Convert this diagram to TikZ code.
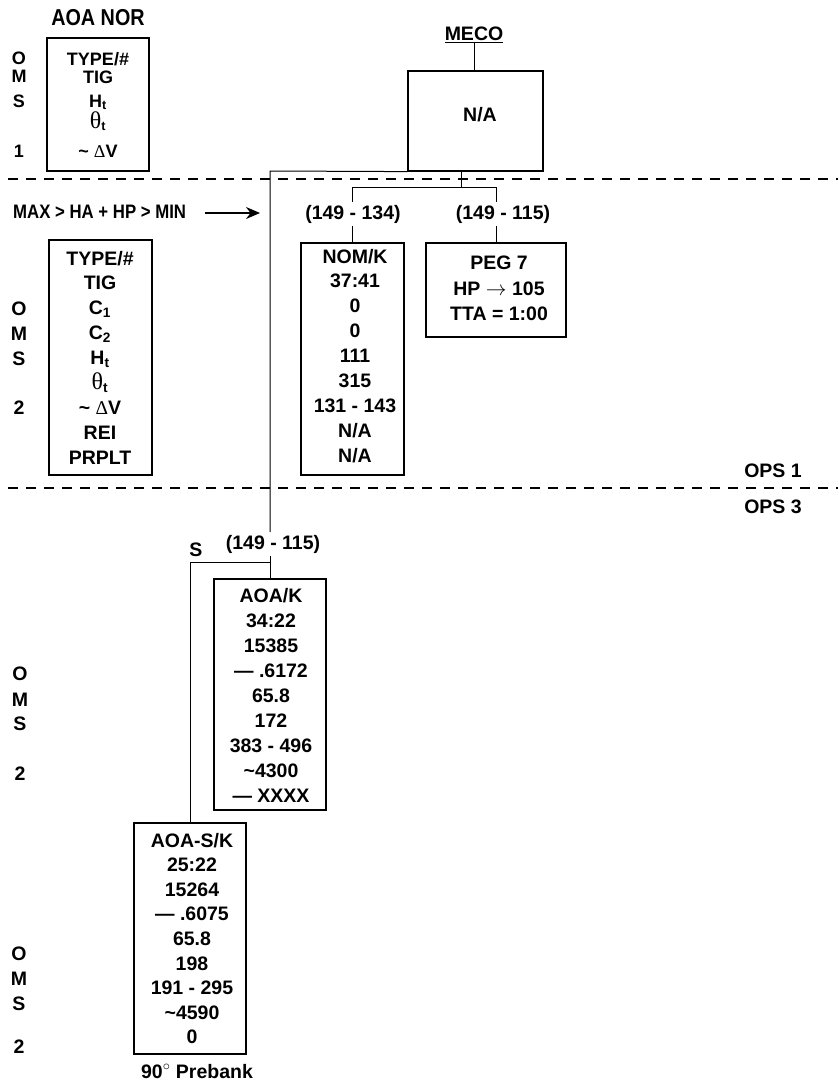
\documentclass[tikz,border=0pt]{standalone}
\usepackage{fontspec}
\setmainfont{Liberation Sans}
\newfontfamily\grk{Liberation Serif}
\newfontfamily\narrowsans[FakeStretch=0.86]{Liberation Sans}
\newcommand{\thetat}{{\grk\mdseries\fontsize{24}{24}\selectfont θ}\textsubscript{t}}
\newcommand{\dv}{\textasciitilde{} {\grk\mdseries Δ}V}
\usetikzlibrary{arrows.meta, positioning}

\begin{document}
\begin{tikzpicture}[x=1pt, y=-1pt, >={Stealth[length=14pt,width=12pt]},
  box/.style={draw, line width=1.2pt, inner sep=0pt},
  row/.style={anchor=base, inner sep=0pt, font=\bfseries\fontsize{19.5}{19.5}\selectfont},
  small row/.style={row, font=\bfseries\fontsize{18}{18}\selectfont},
  tag/.style={row, anchor=center, inner sep=2.5pt},
  sep/.style={line width=1.1pt, dash pattern=on 10pt off 8pt}]
  \useasboundingbox (0,0) rectangle (838,1084);
  % phase separators
  \draw[sep] (8,179) -- (838,179);
  \draw[sep] (8,488) -- (838,488);
  \node[row] (ops1) at (773,477) {OPS 1};
  \node[row] (ops3) at (773,513) {OPS 3};

  % OMS 1 legend
  \node[row, font=\narrowsans\bfseries\fontsize{23}{23}\selectfont] (title) at (98,25) {AOA NOR};
  \node[box, minimum width=102pt, minimum height=133pt] (oms1) at (98,104.5) {};
  \foreach \y/\t [count=\i] in {65/{TYPE/\#}, 83/TIG, 107/{H\textsubscript{t}},
      128/{\thetat}, 157/{\dv}}
    \node[small row] (a\i) at (98,\y) {\t};
  \foreach \y/\t [count=\i] in {64/O, 82/M, 107/S, 157/1}
    \node[small row] (la\i) at (19,\y) {\t};

  % OMS 2 legend
  \node[row, anchor=base west, font=\narrowsans\bfseries\fontsize{19.5}{19.5}\selectfont] (maxmin) at (13,218) {MAX > HA + HP > MIN};
  \coordinate (arrtail) at (205,213);
  \coordinate (arrtip) at (260,213);
  \draw[->, line width=1.2pt] (arrtail) -- (arrtip);
  \node[box, minimum width=103pt, minimum height=235pt] (oms2) at (100.5,357.5) {};
  \foreach \t [count=\i from 0] in {{TYPE/\#}, TIG, C\textsubscript{1}, C\textsubscript{2}, H\textsubscript{t},
      {\thetat}, {\dv}, REI, PRPLT}
    \node[row] (b\i) at (100,265+24.9*\i) {\t};
  \foreach \y/\t [count=\i] in {315/O, 340/M, 365/S, 414/2}
    \node[row] (lb\i) at (19,\y) {\t};

  % MECO
  \node[row, anchor=center] (meco) at (474,35) {\underline{MECO}};
  \node[box, minimum width=135pt, minimum height=100pt] (mecobox) at (475.5,121) {};
  \node[row] (mecona) at (480,121) {N/A};
  \draw[line width=1pt] (meco.south) -- (meco.south |- mecobox.north);

  % OPS 1 targets
  \node[tag] (lblnom) at (353,214) {(149 - 134)};
  \node[tag] (lblpeg) at (503,214) {(149 - 115)};
  \node[box, minimum width=103pt, minimum height=232pt] (nom) at (352.5,359) {};
  \foreach \t [count=\i from 0] in {NOM/K, 37:41, 0, 0, 111, 315, 131 - 143, N/A, N/A}
    \node[row] (n\i) at (355,263+24.9*\i) {\t};
  \node[box, minimum width=140pt, minimum height=94pt] (peg) at (496,290) {};
  \foreach \y/\t [count=\i] in {269/PEG 7, 295/{HP $\rightarrow$ 105}, 320/{TTA = 1:00}}
    \node[row] (p\i) at (499,\y) {\t};
  \coordinate (fork) at (461,187);
  \draw[line width=1pt] (fork |- mecobox.south) -- (fork);
  \draw[line width=1pt] (lblnom.north -| nom.north) -- (fork -| nom.north)
    -- (fork -| peg.north) -- (lblpeg.north -| peg.north);
  \draw[line width=1pt] (lblnom.south -| nom.north) -- (nom.north);
  \draw[line width=1pt] (lblpeg.south -| peg.north) -- (peg.north);

  % OPS 3 targets
  \coordinate (corner) at (270,171);
  \node[tag] (lblaoa) at (273,544) {(149 - 115)};
  \node[row, anchor=center] (s) at (196,550) {S};
  \node[box, minimum width=112pt, minimum height=231pt] (aoa) at (270,694.5) {};
  \foreach \t [count=\i from 0] in {AOA/K, 34:22, 15385, — .6172, 65.8, 172, 383 - 496,
      \textasciitilde 4300, — XXXX}
    \node[row] (k\i) at (271,602+25*\i) {\t};
  \foreach \y/\t [count=\i] in {680/O, 706/M, 730/S, 780/2}
    \node[row] (lc\i) at (20,\y) {\t};
  \node[box, minimum width=112pt, minimum height=231pt] (aoas) at (190,938.5) {};
  \foreach \t [count=\i from 0] in {AOA-S/K, 25:22, 15264, — .6075, 65.8, 198, 191 - 295,
      \textasciitilde 4590, 0}
    \node[row] (m\i) at (192,847+24.6*\i) {\t};
  \node[row] (prebank) at (197,1078) {90$^\circ$ Prebank};
  \foreach \y/\t [count=\i] in {960/O, 985/M, 1010/S, 1053/2}
    \node[row] (ld\i) at (19,\y) {\t};
  \coordinate (sj) at (270,562);
  \draw[line width=1pt] (mecobox.south west) -- (corner) -- (lblaoa.north -| corner);
  \draw[line width=1pt] (lblaoa.south -| corner) -- (aoa.north);
  \draw[line width=1pt] (sj) -| (aoas.north);
\end{tikzpicture}
\end{document}
